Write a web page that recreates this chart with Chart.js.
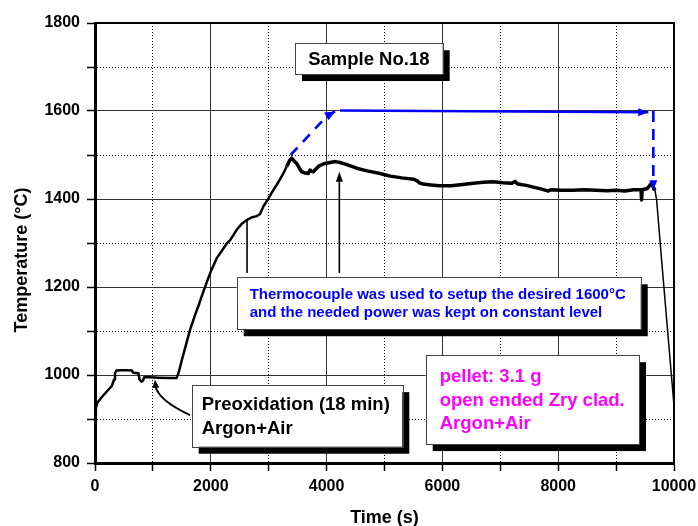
<!DOCTYPE html>
<html>
<head>
<meta charset="utf-8">
<script src="https://cdn.jsdelivr.net/npm/chart.js@4.4.0/dist/chart.umd.min.js"></script>
<style>
  html, body { margin: 0; padding: 0; background: #fff; }
</style>
</head>
<body>
<canvas id="tempChart" width="698" height="526"></canvas>
<script>
// Measured temperature history
const timeS = [0, 15, 40, 120, 200, 290, 330, 345, 370, 450, 550, 640, 660, 750, 770, 800, 830, 850, 950, 1100,
  1250, 1410, 1450, 1500, 1570, 1640, 1727, 1800, 1870, 1950, 2015, 2100, 2190, 2275, 2332, 2447, 2530, 2620, 2700, 2793,
  2850, 2907, 2994, 3060, 3138, 3200, 3253, 3310, 3368, 3397, 3440, 3483, 3530, 3569, 3630, 3684, 3713, 3740, 3771, 3858,
  3950, 4059, 4150, 4231, 4350, 4519, 4700, 4922, 5100, 5300, 5500, 5556, 5600, 5670, 5800, 5958, 6150, 6350, 6534, 6700,
  6879, 7050, 7200, 7254, 7300, 7450, 7570, 7700, 7830, 7870, 8050, 8261, 8450, 8650, 8837, 9000, 9150, 9300, 9430, 9440,
  9450, 9540, 9614, 9640, 9671, 9700, 9786, 10000];
const tempC = [905, 925, 937, 950, 962, 975, 990, 1004, 1010, 1011, 1011, 1010, 1005, 1004, 990, 985, 987, 995, 995, 994,
  993, 993, 1008, 1034, 1068, 1102, 1136, 1162, 1189, 1218, 1240, 1265, 1282, 1299, 1306, 1330, 1343, 1352, 1358, 1361,
  1366, 1383, 1401, 1416, 1432, 1446, 1458, 1474, 1489, 1493, 1486, 1481, 1470, 1462, 1459, 1458, 1466, 1463, 1462, 1474,
  1480, 1483, 1485, 1483, 1478, 1470, 1464, 1458, 1452, 1448, 1445, 1442, 1437, 1434, 1432, 1430, 1430, 1433, 1436, 1438,
  1439, 1437, 1436, 1440, 1434, 1431, 1427, 1423, 1418, 1421, 1420, 1420, 1421, 1420, 1419, 1420, 1418, 1421, 1421, 1398,
  1421, 1424, 1436, 1428, 1420, 1398, 1261, 930];

// Setpoint guide: ramp up, constant power level, switch-off
const rampTime = [3380, 4000, 4145];
const rampTemp = [1500, 1588, 1599];
const holdTime = [4231, 9555];
const holdTemp = [1601, 1597];
const dropTime = [9643, 9643];
const dropTemp = [1600, 1420];

// Labelled ticks
const xTicks = [0, 2000, 4000, 6000, 8000, 10000];
const yTicks = [800, 1000, 1200, 1400, 1600, 1800];

// Annotation texts
const sampleText = ['Sample No.18'];
const thermoText = ['Thermocouple was used to setup the desired 1600°C', 'and the needed power was kept on constant level'];
const preoxText = ['Preoxidation (18 min)', 'Argon+Air'];
const pelletText = ['pellet: 3.1 g', 'open ended Zry clad.', 'Argon+Air'];

const FONT = '"Liberation Sans", Arial, sans-serif';

function toPoints(xs, ys) {
  return xs.map((t, i) => ({ x: t, y: ys[i] }));
}

function arrowHead(ctx, tx, ty, fx, fy, len, half, color) {
  const a = Math.atan2(ty - fy, tx - fx);
  ctx.save();
  ctx.translate(tx, ty);
  ctx.rotate(a);
  ctx.beginPath();
  ctx.moveTo(0, 0);
  ctx.lineTo(-len, -half);
  ctx.lineTo(-len, half);
  ctx.closePath();
  ctx.fillStyle = color;
  ctx.fill();
  ctx.restore();
}

// Text boxes with a drop shadow, placed in data units
const boxes = [
  { text: sampleText, x0: 3454, x1: 6005, y0: 1754, y1: 1684, size: 18.5, color: '#000', center: true, gap: 22 },
  { text: thermoText, x0: 2447, x1: 9425, y0: 1222, y1: 1104, size: 15, color: '#0000ff', pad: 13, gap: 18 },
  { text: preoxText, x0: 1670, x1: 5307, y0: 977, y1: 837, size: 18.5, color: '#000', pad: 10, gap: 23.4 },
  { text: pelletText, x0: 5712, x1: 9396, y0: 1045, y1: 843, size: 18.5, color: '#ff00ff', pad: 14, gap: 23.3 }
];

const notesPlugin = {
  id: 'notes',
  afterDatasetsDraw(chart) {
    const { ctx } = chart;
    const x = chart.scales.x, y = chart.scales.y;
    const px = v => x.getPixelForValue(v);
    const py = v => y.getPixelForValue(v);

    ctx.save();
    // blue arrowheads on the setpoint guide
    arrowHead(ctx, px(rampTime[2]), py(rampTemp[2]), px(rampTime[1]), py(rampTemp[1]), 10, 4.5, '#0000ff');
    arrowHead(ctx, px(holdTime[1]), py(holdTemp[1]), px(holdTime[0]), py(holdTemp[0]), 10, 4, '#0000ff');
    arrowHead(ctx, px(dropTime[1]), py(dropTemp[1]), px(dropTime[0]), py(dropTemp[0]), 10, 4, '#0000ff');

    // black pointers
    ctx.strokeStyle = '#000';
    ctx.lineWidth = 1.6;
    ctx.beginPath();
    ctx.moveTo(px(2626), py(1352));
    ctx.lineTo(px(2626), py(1232));
    ctx.stroke();

    ctx.beginPath();
    ctx.moveTo(px(4220), py(1232));
    ctx.lineTo(px(4220), py(1452));
    ctx.stroke();
    arrowHead(ctx, px(4220), py(1462), px(4220), py(1300), 10, 3.5, '#000');

    ctx.lineWidth = 2;
    ctx.beginPath();
    ctx.moveTo(px(1641), py(909));
    ctx.quadraticCurveTo(px(1088), py(943), px(1042), py(976));
    ctx.stroke();
    arrowHead(ctx, px(1036), py(989), px(1060), py(955), 8, 3.5, '#000');

    // boxes
    boxes.forEach(b => {
      const l = px(b.x0), r = px(b.x1), t = py(b.y0), btm = py(b.y1);
      ctx.fillStyle = '#000';
      ctx.fillRect(l + 7, t + 7, r - l, btm - t);
      ctx.fillStyle = '#fff';
      ctx.fillRect(l, t, r - l, btm - t);
      ctx.strokeStyle = '#444';
      ctx.lineWidth = 1;
      ctx.strokeRect(Math.round(l) + 0.5, Math.round(t) + 0.5, Math.round(r - l), Math.round(btm - t));

      ctx.font = 'bold ' + b.size + 'px ' + FONT;
      ctx.fillStyle = b.color;
      ctx.textBaseline = 'middle';
      ctx.textAlign = b.center ? 'center' : 'left';
      const cy = (t + btm) / 2;
      const tx = b.center ? (l + r) / 2 : l + b.pad;
      b.text.forEach((line, i) => {
        ctx.fillText(line, tx, cy + (i - (b.text.length - 1) / 2) * b.gap + 1);
      });
    });
    ctx.restore();
  },
  afterDraw(chart) {
    const { ctx, chartArea: a } = chart;
    ctx.save();
    // top and right frame
    ctx.strokeStyle = '#000';
    ctx.lineWidth = 2;
    ctx.beginPath();
    ctx.moveTo(a.left, a.top);
    ctx.lineTo(a.right, a.top);
    ctx.lineTo(a.right, a.bottom);
    ctx.stroke();

    // axis titles
    ctx.fillStyle = '#000';
    ctx.font = 'bold 18px ' + FONT;
    ctx.textAlign = 'center';
    ctx.textBaseline = 'middle';
    ctx.fillText('Time (s)', (a.left + a.right) / 2, 518);
    ctx.translate(22, 260);
    ctx.rotate(-Math.PI / 2);
    ctx.fillText('Temperature (°C)', 0, 0);
    ctx.restore();
  }
};

const isMajorY = c => c.tick && yTicks.includes(c.tick.value);
const isMajorX = c => c.tick && xTicks.includes(c.tick.value);

const tempChart = new Chart(document.getElementById('tempChart'), {
  type: 'line',
  data: {
    datasets: [{
      label: 'Temperature',
      data: toPoints(timeS, tempC),
      borderColor: '#000',
      borderWidth: 2.5,
      borderJoinStyle: 'round',
      pointRadius: 0,
      tension: 0,
      segment: {
        borderWidth: c => {
          const t = c.p0.parsed.x;
          if (t >= 9671) return 1.5;
          if (t >= 3300) return 3.5;
          return 2.5;
        }
      }
    }, {
      label: 'Ramp',
      data: toPoints(rampTime, rampTemp),
      borderColor: '#0000ff',
      borderWidth: 2.6,
      borderDash: [10, 8],
      pointRadius: 0
    }, {
      label: 'Constant power',
      data: toPoints(holdTime, holdTemp),
      borderColor: '#0000ff',
      borderWidth: 2.4,
      pointRadius: 0
    }, {
      label: 'Switch-off',
      data: toPoints(dropTime, dropTemp),
      borderColor: '#0000ff',
      borderWidth: 2.6,
      borderDash: [11, 7],
      pointRadius: 0
    }]
  },
  options: {
    responsive: false,
    animation: false,
    layout: { autoPadding: false, padding: { top: 23, right: 24, left: 0, bottom: 0 } },
    plugins: { legend: { display: false }, tooltip: { enabled: false } },
    scales: {
      x: {
        type: 'linear',
        min: 0,
        max: 10000,
        // fixed axis band; the last label fits in the right margin
        afterFit: s => {
          s.height = 63;
          s.paddingLeft = 0;
          s.paddingRight = 0;
        },
        ticks: {
          stepSize: 1000,
          autoSkip: false,
          maxRotation: 0,
          padding: 6,
          color: '#000',
          font: { family: FONT, size: 16, weight: 'bold' },
          callback: v => xTicks.includes(v) ? String(v) : ''
        },
        grid: {
          color: c => isMajorX(c) ? '#333' : '#000',
          lineWidth: 1,
          tickLength: 8,
          tickWidth: 1.5,
          tickColor: '#000'
        },
        border: {
          color: '#000',
          width: 3,
          dash: c => (c.tick && !isMajorX(c)) ? [1, 2] : []
        }
      },
      y: {
        type: 'linear',
        min: 800,
        max: 1800,
        afterFit: s => {
          s.width = 95;
          s.paddingTop = 0;
          s.paddingBottom = 0;
        },
        ticks: {
          stepSize: 100,
          autoSkip: false,
          padding: 7,
          color: '#000',
          font: { family: FONT, size: 16, weight: 'bold' },
          callback: v => yTicks.includes(v) ? String(v) : ''
        },
        grid: {
          color: c => isMajorY(c) ? '#333' : '#000',
          lineWidth: 1,
          tickLength: 8,
          tickWidth: 1.5,
          tickColor: '#000'
        },
        border: {
          color: '#000',
          width: 3,
          dash: c => (c.tick && !isMajorY(c)) ? [1, 2] : []
        }
      }
    }
  },
  plugins: [notesPlugin]
});
</script>
</body>
</html>
